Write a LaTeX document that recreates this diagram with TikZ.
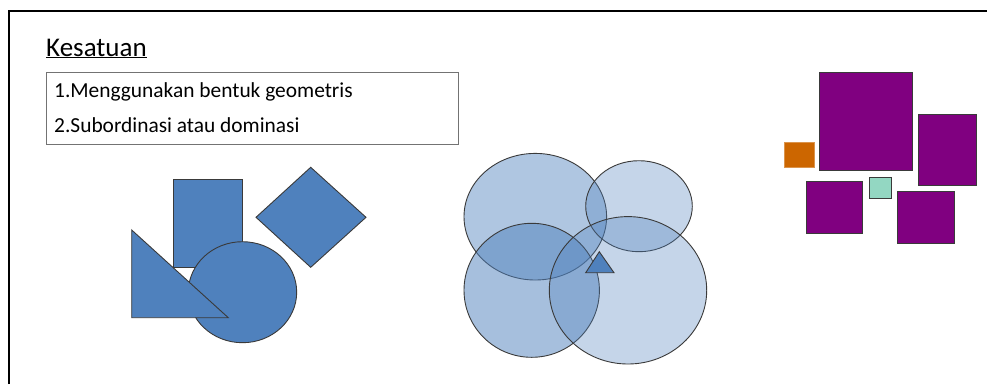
\documentclass[tikz,border=0pt]{standalone}
\usepackage{fontspec}
\setmainfont{Carlito}
\definecolor{obl}{HTML}{4F81BD}
\definecolor{edge}{HTML}{3A3A3A}
\definecolor{purp}{HTML}{800080}
\definecolor{oran}{HTML}{CC6600}
\definecolor{teal}{HTML}{93D7C2}
\tikzset{
  solid shape/.style={fill=obl, draw=edge, line width=0.9pt},
  glass/.style={fill=obl, fill opacity=#1, draw=edge, draw opacity=1, line width=0.9pt},
  sq/.style={fill=purp, draw=edge, line width=0.9pt},
  lbl/.style={anchor=base west, inner sep=0pt, text=black}
}
\begin{document}
\begin{tikzpicture}[x=1pt,y=-1pt]
\fill[white] (0,0) rectangle (987,384);
\useasboundingbox (0,0) rectangle (987,384);
% frame
\draw[line width=2.2pt, black] (9,384) -- (9,11) -- (987,11);
% title
\node[lbl, font=\fontsize{27}{32}\selectfont] (title) at (46,56) {\underline{Kesatuan}};
% text box
\draw[draw=black!55, line width=1pt] (46,72) rectangle (458,144);
\node[lbl, font=\fontsize{21.4}{25}\selectfont] (l1) at (54,97) {1.Menggunakan bentuk geometris};
\node[lbl, font=\fontsize{21.4}{25}\selectfont] (l2) at (54,132) {2.Subordinasi atau dominasi};
% group 1: solid blue shapes
\draw[solid shape] (173,179) rectangle (242,267);
\draw[solid shape] (310.7,167.3) -- (366,217.3) -- (310.7,267.3) -- (256,217.3) -- cycle;
\draw[solid shape] (242.5,292.2) ellipse [x radius=54.2, y radius=50.5];
\draw[solid shape] (131.7,230) -- (131.7,317.7) -- (228.3,317.7) -- cycle;
% group 2: translucent circles
\draw[glass=0.45] (535.3,216.7) ellipse [x radius=71.3, y radius=63.3];
\draw[glass=0.33] (639,206.2) ellipse [x radius=53.3, y radius=45.5];
\draw[glass=0.5] (531.7,290.3) ellipse [x radius=67.7, y radius=67];
\draw[glass=0.33] (628,290.3) ellipse [x radius=78.7, y radius=73.7];
\draw[solid shape] (599.3,251.7) -- (614,272.7) -- (585.7,272.7) -- cycle;
% group 3: squares
\draw[sq] (819.3,72) rectangle (912.7,170);
\draw[sq] (918.7,114) rectangle (976.3,185);
\draw[fill=oran, draw=oran!70] (783.7,142) rectangle (814.3,167.3);
\draw[sq] (806.7,181.7) rectangle (862.7,233.7);
\draw[fill=teal, draw=edge, line width=0.9pt] (869.3,177.3) rectangle (891,198.7);
\draw[sq] (897.7,191.7) rectangle (954,243.7);
\end{tikzpicture}
\end{document}
